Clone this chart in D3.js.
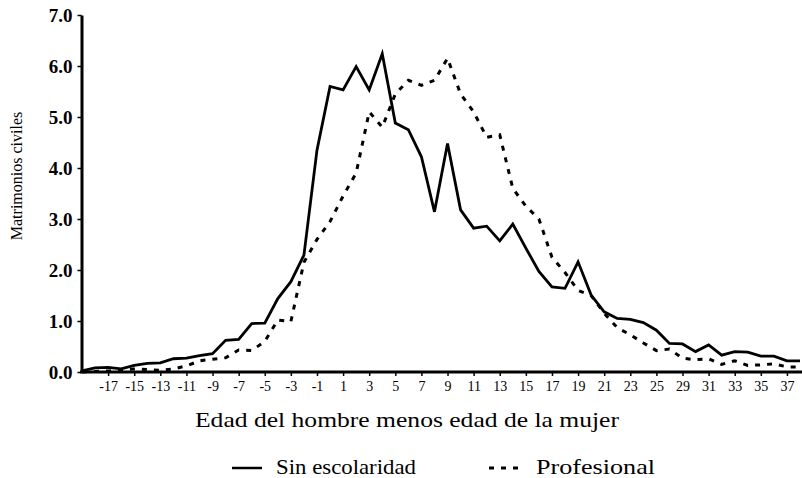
<!DOCTYPE html>
<html><head><meta charset="utf-8">
<script src="https://cdn.jsdelivr.net/npm/d3@7"></script>
<style>body{margin:0;background:#fff}</style>
</head><body>
<svg id="chart" width="802" height="478"></svg>
<script>
const categories = [-19,-18,-17,-16,-15,-14,-13,-12,-11,-10,-9,-8,-7,-6,-5,-4,-3,-2,-1,0,1,2,3,4,5,6,7,8,9,10,11,12,13,14,15,16,17,18,19,20,21,22,23,24,25,26,29,30,31,32,33,34,35,36,37,38];
const sinEscolaridad = [0.02,0.08,0.09,0.06,0.13,0.17,0.18,0.26,0.27,0.32,0.36,0.62,0.64,0.95,0.96,1.44,1.77,2.29,4.35,5.6,5.53,5.99,5.53,6.24,4.88,4.75,4.22,3.14,4.48,3.18,2.82,2.86,2.57,2.9,2.43,1.97,1.67,1.64,2.16,1.51,1.18,1.05,1.03,0.97,0.82,0.56,0.55,0.4,0.53,0.33,0.4,0.39,0.31,0.31,0.22,0.22];
const profesional = [0.0,0.01,0.02,0.04,0.06,0.05,0.03,0.06,0.12,0.22,0.25,0.28,0.43,0.42,0.6,1.02,0.99,2.15,2.6,2.95,3.45,3.9,5.1,4.8,5.45,5.72,5.62,5.72,6.15,5.45,5.1,4.6,4.65,3.6,3.25,3.0,2.25,1.95,1.6,1.5,1.15,0.87,0.73,0.57,0.42,0.45,0.27,0.24,0.26,0.15,0.22,0.13,0.14,0.16,0.1,0.1];
const xTickLabels = [-17,-15,-13,-11,-9,-7,-5,-3,-1,1,3,5,7,9,11,13,15,17,19,21,23,25,29,31,33,35,37];
const yTicks = [0,1,2,3,4,5,6,7];
const seriesNames = ["Sin escolaridad","Profesional"];
const xTitle = "Edad del hombre menos edad de la mujer";
const yTitle = "Matrimonios civiles";

const FONT = '"Liberation Serif"';
const svg = d3.select("#chart");

// texts first (same path as the font test that worked)
const textSpecs = [
  {t:xTitle, x:407, y:427, size:"22px", anchor:"middle", len:424},
  {t:seriesNames[0], x:276, y:474, size:"21px", anchor:"start", len:140},
  {t:seriesNames[1], x:536, y:474, size:"21px", anchor:"start", len:119}
];
svg.selectAll("text.ttl").data(textSpecs).join("text").attr("class","ttl")
  .attr("x",d=>d.x).attr("y",d=>d.y)
  .style("font-family",FONT).style("font-size",d=>d.size)
  .attr("text-anchor",d=>d.anchor)
  .attr("textLength",d=>d.len).attr("lengthAdjust","spacingAndGlyphs")
  .text(d=>d.t);
svg.append("text").attr("transform","translate(22,176) rotate(-90)").attr("text-anchor","middle")
  .style("font-family",FONT).style("font-size","16px").text(yTitle);

const x = d3.scalePoint().domain(categories).range([82, 800]);
const y = d3.scaleLinear().domain([0, 7]).range([372, 15]);

// y axis
const ya = svg.append("g").attr("transform","translate(81.5,0)")
  .call(d3.axisLeft(y).tickValues(yTicks).tickFormat(d3.format(".1f")).tickSize(4).tickSizeOuter(0).tickPadding(5));
ya.attr("font-family",null).attr("font-size",null);
ya.select(".domain").attr("stroke","#000").attr("stroke-width",3);
ya.selectAll(".tick line").attr("stroke","#000").attr("stroke-width",1.5);
ya.selectAll(".tick text").style("font-family",FONT).style("font-size","19px").style("font-weight","bold").attr("fill","#000");

// x axis
const xa = svg.append("g").attr("transform","translate(0,372)")
  .call(d3.axisBottom(x).tickValues(xTickLabels).tickSize(4).tickSizeOuter(0).tickPadding(5));
xa.attr("font-family",null).attr("font-size",null);
xa.select(".domain").remove();
xa.append("line").attr("x1",80).attr("x2",802).attr("y1",0).attr("y2",0).attr("stroke","#000").attr("stroke-width",3);
xa.selectAll(".tick line").attr("stroke","#000").attr("stroke-width",1.5);
xa.selectAll(".tick text").style("font-family",FONT).style("font-size","14px").attr("fill","#000");

// lines
const line = d3.line().x((d,i)=>x(categories[i])).y(d=>y(d));
svg.append("path").datum(profesional).attr("d",line).attr("fill","none")
  .attr("stroke","#000").attr("stroke-width",3).attr("stroke-dasharray","5,7");
svg.append("path").datum(sinEscolaridad).attr("d",line).attr("fill","none")
  .attr("stroke","#000").attr("stroke-width",2.8).attr("stroke-linejoin","miter");

// legend samples
const leg = svg.append("g");
leg.append("line").attr("x1",232).attr("x2",262).attr("y1",468).attr("y2",468).attr("stroke","#000").attr("stroke-width",2.5);
leg.append("line").attr("x1",489).attr("x2",520).attr("y1",468).attr("y2",468).attr("stroke","#000").attr("stroke-width",3).attr("stroke-dasharray","5,7");
</script>
</body></html>
